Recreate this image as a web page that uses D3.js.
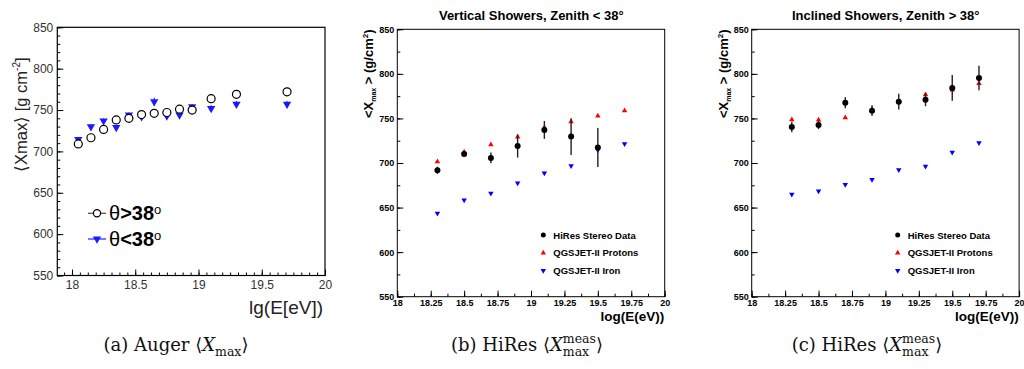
<!DOCTYPE html>
<html>
<head>
<meta charset="utf-8">
<script src="https://cdn.jsdelivr.net/npm/d3@7"></script>
<style>
  body { margin: 0; background: #fff; }
  svg { display: block; }
</style>
</head>
<body>
<div id="chart"></div>
<script>
// (a) Auger <Xmax>
const augerE = [18.05, 18.15, 18.25, 18.35, 18.45, 18.55, 18.65, 18.75, 18.85, 18.95, 19.1, 19.3, 19.7];
const augerIncl = [709, 716.5, 726.6, 738, 740, 744.5, 746, 747, 751, 750, 763.7, 769, 772];   // theta > 38
const augerInclErr = [2, 2, 2, 2, 2, 2, 2, 2, 2, 2, 3, 3, 5];
const augerVert = [714.5, 730, 737, 729, 744, 742, 760, 743, 744, 754, 752, 757, 757];        // theta < 38
const augerVertErr = [3, 3, 3, 3, 3, 3, 5, 3, 4, 3, 4, 4, 4];

// (b),(c) HiRes
const hiresE = [18.3, 18.5, 18.7, 18.9, 19.1, 19.3, 19.5, 19.7];
const vertData = [691.8, 710.1, 705.7, 719.1, 737.1, 729.6, 717.4];
const vertErr = [4, 3, 6, 13, 10, 20.6, 22];
const vertProton = [701.5, 712.4, 720.6, 729.2, 740, 746.4, 752.8, 758.8];
const vertIron = [643.6, 658.5, 666, 677.6, 688.8, 696.7, 714.6, 721.4];
const inclData = [740.4, 742.7, 767.7, 758.7, 768.8, 771, 784.2, 795.4];
const inclErr = [5.8, 4.7, 6.2, 6, 8.8, 7.3, 14.4, 13.8];
const inclProton = [748.6, 748.3, 750.9, 760.2, 769.2, 776.7, 782, 789.4];
const inclIron = [664.9, 668.6, 675.7, 681.4, 692.2, 696.3, 712, 722.5];

const yTicks = [550, 600, 650, 700, 750, 800, 850];
const xTicksA = [18, 18.5, 19, 19.5, 20];
const xTicksH = [18, 18.25, 18.5, 18.75, 19, 19.25, 19.5, 19.75, 20];
const hiresLegend = ["HiRes Stereo Data", "QGSJET-II Protons", "QGSJET-II Iron"];

const width = 1024, height = 369;
const svg = d3.select("#chart").append("svg")
  .attr("width", width).attr("height", height)
  .attr("font-family", "'Liberation Sans', Arial, sans-serif");

const tri = size => d3.symbol(d3.symbolTriangle, size)();

function axes(g, x, y, o) {
  const minorX = d3.range(o.xDomain[0], o.xDomain[1] + 1e-9, o.xMinor).filter(v => v >= x.domain()[0] - 1e-9);
  const minorY = d3.range(550, 850.001, o.yMinor);
  g.append("g").attr("transform", `translate(0,${y.range()[0]})`)
    .call(d3.axisBottom(x).tickValues(minorX).tickSize(-o.minorLen).tickFormat(""));
  g.append("g").attr("transform", `translate(${x.range()[0]},0)`)
    .call(d3.axisLeft(y).tickValues(minorY).tickSize(-o.minorLen).tickFormat(""));
  const ax = g.append("g").attr("transform", `translate(0,${y.range()[0]})`)
    .call(d3.axisBottom(x).tickValues(o.xTicks).tickSize(-o.majorLen).tickPadding(o.xPad).tickFormat(d => String(d)));
  const ay = g.append("g").attr("transform", `translate(${x.range()[0]},0)`)
    .call(d3.axisLeft(y).tickValues(yTicks).tickSize(-o.majorLen).tickPadding(o.yPad));
  g.selectAll(".domain").remove();
  g.selectAll(".tick line").attr("stroke", "#000").attr("stroke-width", 1);
  [ax, ay].forEach(a => a.selectAll("text")
    .attr("font-size", o.labelSize).attr("font-weight", o.labelWeight).attr("fill", o.labelColor)
    .attr("font-family", "'Liberation Sans', Arial, sans-serif"));
  g.append("rect")
    .attr("x", x.range()[0]).attr("y", y.range()[1])
    .attr("width", x.range()[1] - x.range()[0]).attr("height", y.range()[0] - y.range()[1])
    .attr("fill", "none").attr("stroke", "#000").attr("stroke-width", o.frameW);
}

// ---------- panel (a) ----------
{
  const g = svg.append("g");
  const x = d3.scaleLinear().domain([17.884, 20.0]).range([57.3, 325]);
  const y = d3.scaleLinear().domain([550, 850]).range([275.5, 27.3]);
  axes(g, x, y, { xDomain: [17.875, 20], xMinor: 0.0625, yMinor: 10, xTicks: xTicksA,
    majorLen: 6, minorLen: 3, xPad: 5, yPad: 4, labelSize: 12, labelWeight: "normal",
    labelColor: "#333", frameW: 1.2 });

  const pts = augerE.map((e, i) => ({ e, a: augerIncl[i], ae: augerInclErr[i], v: augerVert[i], ve: augerVertErr[i] }));
  g.append("g").selectAll("line").data(pts).join("line")
    .attr("x1", d => x(d.e)).attr("x2", d => x(d.e))
    .attr("y1", d => y(d.v - d.ve)).attr("y2", d => y(d.v + d.ve))
    .attr("stroke", "#1a1aff").attr("stroke-width", 1);
  g.append("g").selectAll("path").data(pts).join("path")
    .attr("d", tri(30))
    .attr("transform", d => `translate(${x(d.e)},${y(d.v)}) rotate(180)`)
    .attr("fill", "#1a1aff");
  g.append("g").selectAll("line").data(pts).join("line")
    .attr("x1", d => x(d.e)).attr("x2", d => x(d.e))
    .attr("y1", d => y(d.a - d.ae)).attr("y2", d => y(d.a + d.ae))
    .attr("stroke", "#000").attr("stroke-width", 1);
  g.append("g").selectAll("circle").data(pts).join("circle")
    .attr("cx", d => x(d.e)).attr("cy", d => y(d.a)).attr("r", 4)
    .attr("fill", "#fff").attr("stroke", "#000").attr("stroke-width", 1.2);

  // legend
  const leg = [{ lbl: ">38", c: "#555", mk: "circle", yy: 213.3 }, { lbl: "<38", c: "#3030ff", mk: "tri", yy: 239 }];
  leg.forEach(l => {
    g.append("line").attr("x1", 88).attr("x2", 106).attr("y1", l.yy).attr("y2", l.yy)
      .attr("stroke", l.c).attr("stroke-width", 1.3);
    if (l.mk === "circle")
      g.append("circle").attr("cx", 97).attr("cy", l.yy).attr("r", 3.6).attr("fill", "#fff").attr("stroke", "#000").attr("stroke-width", 1.2);
    else
      g.append("path").attr("d", tri(30)).attr("transform", `translate(97,${l.yy}) rotate(180)`).attr("fill", "#1a1aff");
    const t = g.append("text").attr("x", 109).attr("y", l.yy + 7).attr("font-size", 20).attr("fill", "#000");
    t.append("tspan").text("θ");
    t.append("tspan").attr("font-weight", "bold").text(l.lbl);
    t.append("tspan").attr("font-size", 13).attr("dy", -6).text("o");
  });

  const yt = g.append("text").attr("transform", "translate(27,172) rotate(-90)")
    .attr("font-size", 16.5).attr("fill", "#222");
  yt.append("tspan").text("⟨Xmax⟩ [g cm");
  yt.append("tspan").attr("font-size", 10).attr("dy", -7).text("-2");
  yt.append("tspan").attr("dy", 7).text("]");
  g.append("text").attr("x", 323).attr("y", 314).attr("text-anchor", "end")
    .attr("font-size", 19).attr("fill", "#222").text("lg(E[eV])");
}

// ---------- panels (b) and (c) ----------
function hiresPanel(left, title, data, err, prot, iron) {
  const g = svg.append("g");
  const x = d3.scaleLinear().domain([18, 20]).range([left, left + 267.4]);
  const y = d3.scaleLinear().domain([550, 850]).range([296.7, 29.3]);
  axes(g, x, y, { xDomain: [18, 20], xMinor: 0.125, yMinor: 25, xTicks: xTicksH,
    majorLen: 6, minorLen: 3, xPad: 3, yPad: 3, labelSize: 9, labelWeight: "bold",
    labelColor: "#000", frameW: 1 });

  const pts = hiresE.map((e, i) => ({ e, p: prot[i], f: iron[i], d: data[i], de: err[i] }));
  g.append("g").selectAll("path").data(pts).join("path")
    .attr("d", tri(13)).attr("transform", d => `translate(${x(d.e)},${y(d.p)})`).attr("fill", "#ff0000");
  g.append("g").selectAll("path").data(pts).join("path")
    .attr("d", tri(13)).attr("transform", d => `translate(${x(d.e)},${y(d.f)}) rotate(180)`).attr("fill", "#0000ff");
  const dp = pts.filter(d => d.d !== undefined);
  g.append("g").selectAll("line").data(dp).join("line")
    .attr("x1", d => x(d.e)).attr("x2", d => x(d.e))
    .attr("y1", d => y(d.d - d.de)).attr("y2", d => y(d.d + d.de))
    .attr("stroke", "#222").attr("stroke-width", 1.4);
  g.append("g").selectAll("circle").data(dp).join("circle")
    .attr("cx", d => x(d.e)).attr("cy", d => y(d.d)).attr("r", 3).attr("fill", "#000");

  // legend
  hiresLegend.forEach((lbl, i) => {
    const yy = 235 + i * 17.8, mx = left + 146;
    if (i === 0) g.append("circle").attr("cx", mx).attr("cy", yy).attr("r", 2.5).attr("fill", "#000");
    if (i === 1) g.append("path").attr("d", tri(13)).attr("transform", `translate(${mx},${yy})`).attr("fill", "#ff0000");
    if (i === 2) g.append("path").attr("d", tri(13)).attr("transform", `translate(${mx},${yy}) rotate(180)`).attr("fill", "#0000ff");
    g.append("text").attr("x", left + 156).attr("y", yy + 3.5).attr("font-size", 9.5)
      .attr("font-weight", "bold").text(lbl);
  });

  g.append("text").attr("x", left + 134).attr("y", 19.5).attr("text-anchor", "middle")
    .attr("font-size", 13).attr("font-weight", "bold").text(title);

  const yt = g.append("text").attr("transform", `translate(${left - 24},29.5) rotate(-90)`)
    .attr("text-anchor", "end").attr("font-size", 13).attr("font-weight", "bold");
  yt.append("tspan").text("<X");
  yt.append("tspan").attr("font-size", 7).attr("dy", 3).text("max");
  yt.append("tspan").attr("dy", -3).text(" > (g/cm");
  yt.append("tspan").attr("font-size", 8).attr("dy", -5).text("2");
  yt.append("tspan").attr("dy", 5).text(")");

  g.append("text").attr("x", left + 267).attr("y", 321).attr("text-anchor", "end")
    .attr("font-size", 13.5).attr("font-weight", "bold").text("log(E(eV))");
}
hiresPanel(397.3, "Vertical Showers, Zenith < 38°", vertData, vertErr, vertProton, vertIron);
hiresPanel(751.7, "Inclined Showers, Zenith > 38°", inclData, inclErr, inclProton, inclIron);

// ---------- captions ----------
function caption(cx, prefix, withMeas) {
  const g = svg.append("g").attr("font-family", "'DejaVu Serif', serif").attr("fill", "#111");
  const t = g.append("text").attr("y", 351).attr("font-size", 18);
  t.append("tspan").text(prefix + " ⟨");
  t.append("tspan").attr("font-style", "italic").text("X");
  const sub = t.append("tspan").attr("font-size", 12.5).attr("dy", 5).text("max");
  if (withMeas) {
    const w = sub.node().getComputedTextLength();
    t.append("tspan").attr("font-size", 12.5).attr("dx", -w).attr("dy", -13).text("meas");
    t.append("tspan").attr("dy", 8).text("⟩");
  } else {
    t.append("tspan").attr("dy", -5).text("⟩");
  }
  const bb = t.node().getBBox();
  t.attr("x", cx - bb.width / 2);
}
caption(176, "(a) Auger", false);
caption(527, "(b) HiRes", true);
caption(867, "(c) HiRes", true);
</script>
</body>
</html>
